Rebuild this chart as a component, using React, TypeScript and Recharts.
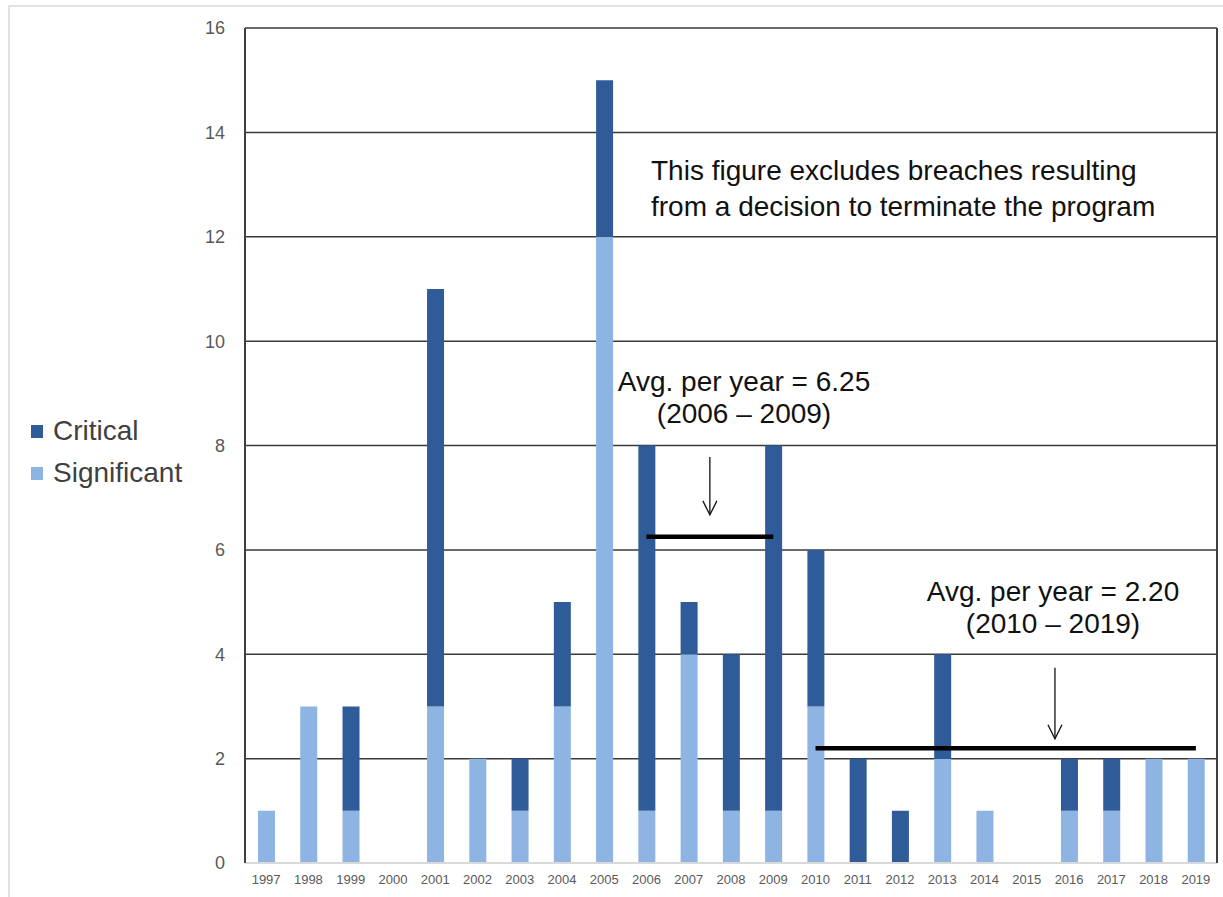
import { Bar, BarChart, CartesianGrid, Customized, Legend, ReferenceLine, XAxis, YAxis } from "recharts";

const years = [
  "1997", "1998", "1999", "2000", "2001", "2002", "2003", "2004", "2005", "2006", "2007", "2008",
  "2009", "2010", "2011", "2012", "2013", "2014", "2015", "2016", "2017", "2018", "2019",
];
const significant = [1, 3, 1, 0, 3, 2, 1, 3, 12, 1, 4, 1, 1, 3, 0, 0, 2, 1, 0, 1, 1, 2, 2];
const critical = [0, 0, 2, 0, 8, 0, 1, 2, 3, 7, 1, 3, 7, 3, 2, 1, 2, 0, 0, 1, 1, 0, 0];
const yTicks = [0, 2, 4, 6, 8, 10, 12, 14, 16];
const avgPeriods: [string, string][] = [
  ["2006", "2009"],
  ["2010", "2019"],
];
// arrows sit at the left edge of a year's band; top / tip heights in axis units
const avgArrows = [
  { year: "2008", from: 7.78, to: 6.67, dx: 0 },
  { year: "2016", from: 3.74, to: 2.38, dx: 7 },
];
const legendOrder = ["Critical", "Significant"];
const noteLines = ["This figure excludes breaches resulting", "from a decision to terminate the program"];

const DARK = "#2F5C98";
const LIGHT = "#8DB4E2";
const FONT = "'Liberation Sans', Arial, sans-serif";

const data = years.map((year, i) => ({
  year,
  Significant: significant[i],
  Critical: critical[i],
}));

const avgs = avgPeriods.map(([start, end]) => {
  const a = years.indexOf(start);
  const b = years.indexOf(end);
  let sum = 0;
  for (let i = a; i <= b; i++) sum += significant[i] + critical[i];
  return { start, end, value: sum / (b - a + 1) };
});

function makeArrow(dx: number) {
  return function Arrow(props: any) {
    const { x1, y1, y2 } = props;
    const x = x1 + dx;
    return (
      <g stroke="#111" strokeWidth={1.3} fill="none">
        <line x1={x} y1={y1} x2={x} y2={y2} />
        <polyline points={`${x - 7},${y2 - 14} ${x},${y2} ${x + 7},${y2 - 14}`} />
      </g>
    );
  };
}

function Notes() {
  const labelPos = [
    { cx: 744, y: 391 },
    { cx: 1053, y: 601 },
  ];
  return (
    <g fontFamily={FONT} fontSize={28} fill="#111">
      {noteLines.map((t, i) => (
        <text key={t} x={651} y={180 + i * 36}>
          {t}
        </text>
      ))}
      {avgs.map((p, i) => (
        <g key={p.start}>
          <text x={labelPos[i].cx} y={labelPos[i].y} textAnchor="middle">
            {`Avg. per year = ${p.value.toFixed(2)}`}
          </text>
          <text x={labelPos[i].cx} y={labelPos[i].y + 32} textAnchor="middle">
            {`(${p.start} – ${p.end})`}
          </text>
        </g>
      ))}
    </g>
  );
}

function LegendBox(props: any) {
  const items = [...(props.payload || [])].sort(
    (a: any, b: any) => legendOrder.indexOf(a.value) - legendOrder.indexOf(b.value)
  );
  return (
    <div style={{ fontFamily: FONT, fontSize: 28, color: "#404040" }}>
      {items.map((it: any) => (
        <div key={it.value} style={{ display: "flex", alignItems: "center", height: 42 }}>
          <span style={{ width: 12, height: 13, background: it.color, marginRight: 10, display: "inline-block" }} />
          <span>{it.value}</span>
        </div>
      ))}
    </div>
  );
}

export default function App() {
  return (
    <div
      style={{
        position: "absolute",
        left: 0,
        top: 0,
        width: 1223,
        height: 897,
        background: "#fff",
        overflow: "hidden",
      }}
    >
      <div
        style={{
          position: "absolute",
          left: 8,
          top: 5,
          right: 0,
          bottom: 0,
          borderLeft: "2px solid #e2e2e2",
          borderTop: "2px solid #e2e2e2",
        }}
      />
      <BarChart
        width={1223}
        height={897}
        data={data}
        margin={{ top: 28, right: 0, bottom: 4, left: 195 }}
        style={{ position: "absolute", left: 0, top: 0, fontFamily: FONT }}
      >
        <CartesianGrid
          vertical={false}
          horizontalValues={yTicks.filter((v) => v > 0)}
          stroke="#3a3a3a"
          strokeWidth={1.5}
        />
        <XAxis
          dataKey="year"
          interval={0}
          height={30}
          tickLine={false}
          tickSize={0}
          tickMargin={12}
          axisLine={{ stroke: "#d9d9d9", strokeWidth: 2 }}
          tick={{ fontSize: 13, fill: "#595959" }}
        />
        <YAxis
          domain={[0, 16]}
          ticks={yTicks}
          width={50}
          tickLine={false}
          tickSize={0}
          tickMargin={20}
          axisLine={{ stroke: "#404040", strokeWidth: 2 }}
          tick={{ fontSize: 18, fill: "#595959" }}
        />
        <YAxis
          yAxisId="frame"
          orientation="right"
          width={6}
          tick={false}
          tickLine={false}
          axisLine={{ stroke: "#404040", strokeWidth: 2 }}
        />
        <Legend
          layout="vertical"
          align="center"
          verticalAlign="middle"
          wrapperStyle={{ left: 31, top: 410, width: 190 }}
          content={<LegendBox />}
        />
        <Bar dataKey="Significant" stackId="s" fill={LIGHT} barSize={17} isAnimationActive={false} />
        <Bar dataKey="Critical" stackId="s" fill={DARK} barSize={17} isAnimationActive={false} />
        {avgs.map((p) => (
          <ReferenceLine
            key={p.start}
            position="middle"
            segment={[
              { x: p.start, y: p.value },
              { x: p.end, y: p.value },
            ]}
            stroke="#000"
            strokeWidth={4.5}
            ifOverflow="visible"
          />
        ))}
        {avgArrows.map((a) => {
          const Arrow = makeArrow(a.dx);
          return (
            <ReferenceLine
              key={a.year}
              position="start"
              segment={[
                { x: a.year, y: a.from },
                { x: a.year, y: a.to },
              ]}
              shape={(p: any) => <Arrow {...p} />}
              ifOverflow="visible"
            />
          );
        })}
        <Customized component={<Notes />} />
      </BarChart>
    </div>
  );
}
